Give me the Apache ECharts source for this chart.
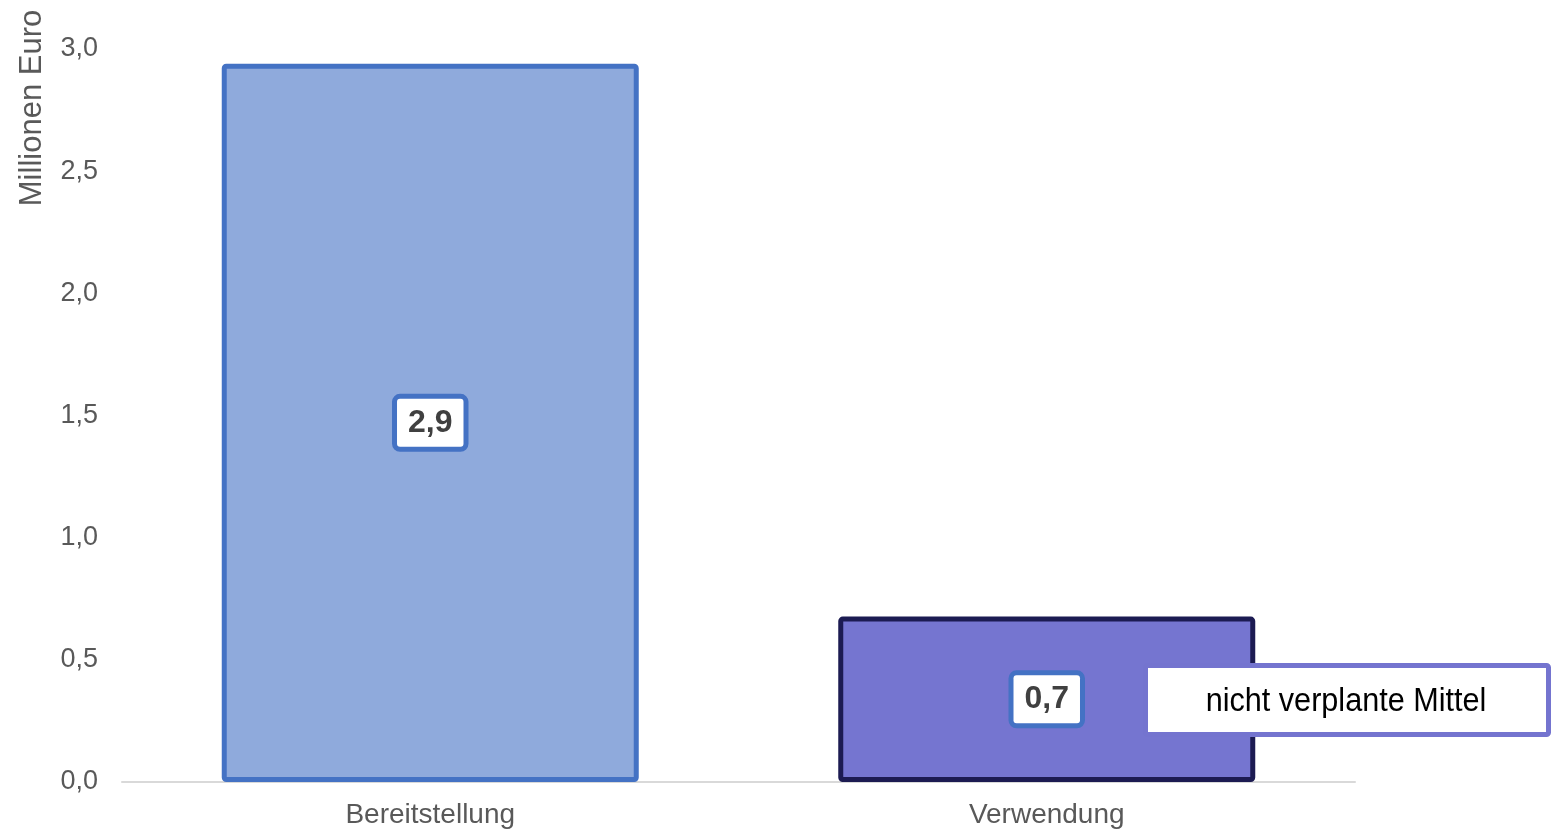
<!DOCTYPE html>
<html>
<head>
<meta charset="utf-8">
<script src="https://cdn.jsdelivr.net/npm/echarts@6/dist/echarts.min.js"></script>
<style>
  html, body { margin: 0; padding: 0; background: #fff; }
  #chart { width: 1560px; height: 832px; }
</style>
</head>
<body>
<div id="chart"></div>
<script>
// Daten
const categories = ['Bereitstellung', 'Verwendung']
const values = [2.94, 0.677]
const barColors = ['#8faadc', '#7575d0']
const barBorders = ['#4472c4', '#1c1b52']
const yTicks = { min: 0, max: 3, interval: 0.5 }
const axisName = 'Millionen Euro'
const noteText = 'nicht verplante Mittel'

const fmt = v => v.toFixed(1).replace('.', ',')

const chart = echarts.init(document.getElementById('chart'))

const option = {
    animation: false,
    grid: { left: 122, right: 205, top: 49, bottom: 50 },
    xAxis: {
        type: 'category',
        data: categories,
        axisLine: { lineStyle: { color: '#d9d9d9', width: 2 } },
        axisTick: { show: false },
        axisLabel: {
            color: '#595959',
            fontSize: 28,
            fontFamily: 'Liberation Sans',
            margin: 19,
        },
    },
    yAxis: {
        type: 'value',
        min: yTicks.min,
        max: yTicks.max,
        interval: yTicks.interval,
        splitLine: { show: false },
        axisLine: { show: false },
        axisTick: { show: false },
        axisLabel: {
            color: '#595959',
            fontSize: 27,
            fontFamily: 'Liberation Sans',
            margin: 24,
            padding: [4, 0, 0, 0],
            formatter: v => fmt(v),
        },
    },
    series: [{
        type: 'bar',
        barWidth: 417,
        data: values.map((v, i) => ({
            value: v,
            itemStyle: {
                color: barColors[i],
                borderColor: barBorders[i],
                borderWidth: 5,
                borderRadius: 2,
            },
        })),
        label: {
            show: true,
            position: 'inside',
            formatter: p => fmt(p.value),
            backgroundColor: '#ffffff',
            borderColor: '#4472c4',
            borderWidth: 5,
            borderRadius: 3,
            padding: [8, 11, 6, 11],
            color: '#404040',
            fontSize: 32,
            fontWeight: 'bold',
            fontFamily: 'Liberation Sans',
            lineHeight: 34,
        },
    }],
    graphic: [
        {
            type: 'text',
            x: 32,
            y: 108,
            rotation: Math.PI / 2,
            style: {
                text: axisName,
                fill: '#595959',
                fontSize: 31,
                fontFamily: 'Liberation Sans',
                align: 'center',
                verticalAlign: 'middle',
            },
        },
        {
            type: 'group',
            left: 1143,
            top: 663,
            z: 100,
            children: [
                {
                    type: 'rect',
                    z: 100,
                    shape: { x: 2.5, y: 2.5, width: 403, height: 69, r: 2 },
                    style: { fill: '#ffffff', stroke: '#7474cf', lineWidth: 5 },
                },
                {
                    type: 'text',
                    z: 101,
                    x: 203,
                    y: 39,
                    scaleX: 0.9,
                    style: {
                        text: noteText,
                        fill: '#000000',
                        fontSize: 34,
                        fontFamily: 'Liberation Sans',
                        align: 'center',
                        verticalAlign: 'middle',
                    },
                },
            ],
        },
    ],
}

chart.setOption(option)
</script>
</body>
</html>
